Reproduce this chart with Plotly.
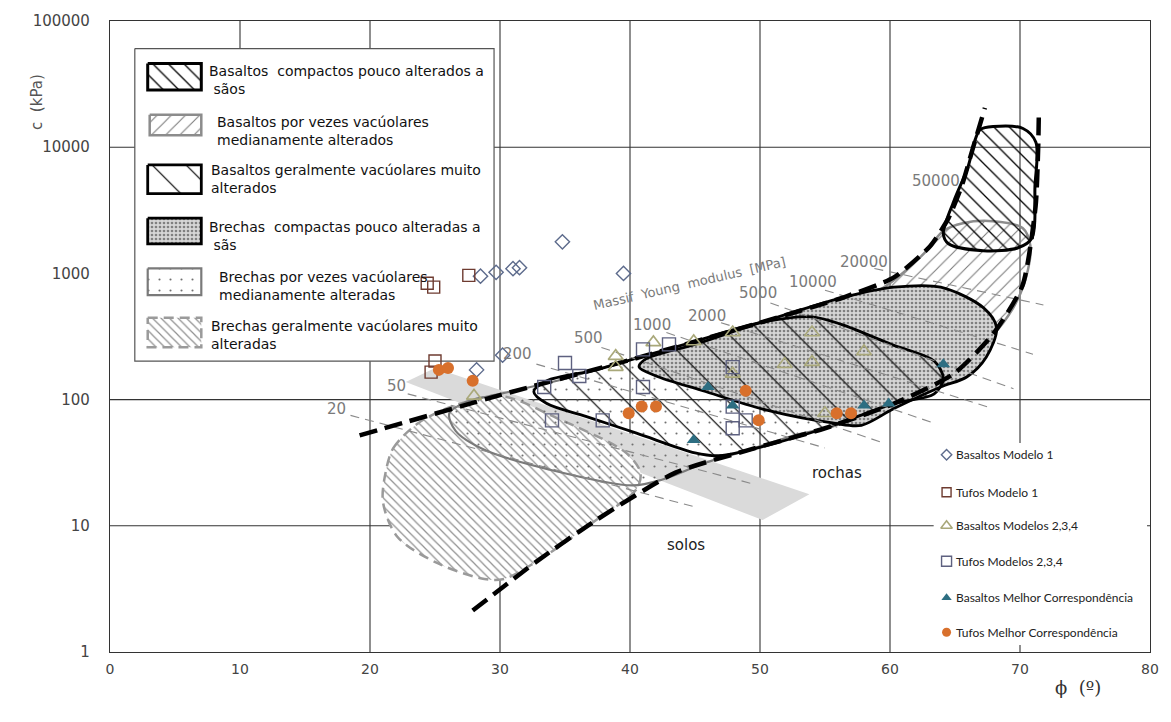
import numpy as np
import plotly.graph_objects as go

# ---------------- figure / axes geometry ----------------
W, H = 1171, 722
ML, MR, MT, MB = 110, 13, 12, 70
PW, PH = W - ML - MR, H - MT - MB
X_MAX = 80.0
N_DEC = 5.0


def px_to_data(px, py):
    """Figure pixel -> (phi, c) in the main axes."""
    return (px - ML) / PW * X_MAX, 10 ** ((MT + PH - py) / PH * N_DEC)


def px_to_paper(px, py):
    return (px - ML) / PW, (MT + PH - py) / PH


# ---------------- data: back-analysed strength parameters ----------------
bas_m1_phi = [28.5, 29.7, 31.0, 31.5, 34.8, 39.5, 28.2, 30.2]
bas_m1_c = [950, 1020, 1090, 1110, 1780, 1000, 172, 225]

tuf_m1_phi = [24.4, 24.9, 27.6, 25.0, 24.7]
tuf_m1_c = [835, 778, 965, 202, 165]

bas_m234_phi = [38.9, 38.9, 41.8, 44.9, 47.9, 47.9, 51.9, 54.0, 54.0, 58.0, 55.0, 28.0]
bas_m234_c = [221, 181, 284, 289, 340, 160, 191, 198, 340, 241, 78, 107]

tuf_m234_phi = [35.0, 36.1, 33.4, 34.0, 37.9, 41.0, 43.0, 41.0, 47.9, 47.9, 48.9, 47.9]
tuf_m234_c = [195, 154, 126, 68.5, 68.5, 250, 274, 126, 181, 88, 68.5, 59.3]

bas_best_phi = [44.9, 46.0, 47.9, 58.0, 59.9, 64.1]
bas_best_c = [47.8, 126, 89.8, 89.8, 93, 191]

tuf_best_phi = [25.3, 26.0, 27.9, 39.9, 40.9, 42.0, 48.9, 49.9, 55.9, 57.0]
tuf_best_c = [172, 178, 141, 77.8, 88.2, 88.2, 117.5, 68.5, 77.8, 77.8]

# ---------------- data: rock-mass class envelopes (phi, c) ----------------
bas_comp_phi = [66.95, 67.94, 70.23, 71.22, 71.15, 70.92, 69.85, 67.18, 64.5, 64.1, 64.9, 66.0, 66.56]
bas_comp_c = [13830, 14590, 14070, 10940, 4870, 1910, 1596, 1513, 1716, 2053, 3720, 6980, 11550]

bas_med_phi = [54.2, 56.5, 58.8, 60.5, 62.6, 64.1, 65.6, 67.9, 70.2, 70.8, 70.6, 69.8, 68.3, 66.4, 64.5, 62.6, 60.3, 58.0, 56.1]
bas_med_c = [407, 562, 698, 914, 1432, 2168, 2500, 2594, 2286, 1655, 1056, 615, 359, 229, 165, 154, 184, 229, 300]

bas_alt_phi = [32.6, 33.6, 37.4, 40.5, 45.0, 50.0, 54.0, 56.3, 60.1, 63.4, 64.1, 63.4, 60.3, 55.0, 48.9, 46.8, 45.0, 40.5, 36.6, 33.6]
bas_alt_c = [115.5, 141, 172, 213, 289, 407, 453, 393, 274, 202, 146, 111, 93, 59.3, 39.3, 35.9, 37.8, 54.2, 73.6, 93]

bre_comp_phi = [40.7, 41.2, 45.0, 50.0, 56.5, 60.3, 63.9, 67.2, 68.2, 67.4, 65.9, 63.9, 60.3, 57.8, 55.7, 50.6, 45.6, 42.0]
bre_comp_c = [181, 209, 274, 407, 649, 778, 778, 533, 372, 217, 151, 126, 85, 62.6, 65, 82, 117.5, 154]

bre_med_phi = [26.1, 27.5, 30.0, 34.4, 40.5, 43.5, 47.3, 51.9, 54.2, 57.3, 56.5, 52.7, 48.9, 45.8, 42.5, 40.2, 33.8, 28.8, 26.6]
bre_med_c = [77.8, 96.5, 111, 141, 213, 250, 229, 181, 122, 96.5, 67.3, 52.3, 39.3, 31.6, 23.3, 20.9, 27.9, 40, 56.2]

bre_alt_phi = [21.2, 21.8, 23.7, 26.3, 30.0, 34.4, 39.7, 40.8, 40.5, 37.4, 32.8, 30.3, 28.8, 25.2, 22.1, 21.0]
bre_alt_c = [26.4, 41.4, 64.9, 88.2, 107, 71.1, 37.8, 26.4, 19.5, 11.1, 5.2, 3.79, 3.79, 5.05, 8.2, 15.4]

# soil / rock transition band
band_phi = [22.75, 25.0, 53.8, 50.2]
band_c = [138, 178, 17.8, 11.1]

# outer limits of the rock-mass domain
upper_phi = [19.2, 29.8, 40.5, 50.0, 56.5, 60.3, 63.1, 64.5, 65.5, 66.4, 67.3]
upper_c = [52, 107, 213, 407, 650, 930, 1650, 2740, 4870, 10000, 20500]
lower_phi = [27.9, 32.8, 37.4, 43.5, 48.9, 55.0, 60.3, 64.9, 67.9, 70.2, 71.2, 71.4, 71.45]
lower_c = [2.13, 5.2, 11.1, 26.4, 39.3, 59.3, 93, 160, 328, 806, 3400, 10000, 18750]

# massif Young modulus isolines (MPa)
iso_E = [20, 50, 200, 500, 1000, 2000, 5000, 10000, 20000]
iso_phi0 = [18.5, 22.9, 32.8, 37.8, 42.8, 47.0, 50.8, 55.0, 58.8]
iso_c0 = [75, 111, 191, 259, 340, 407, 583, 736, 1094]
iso_phi1 = [45.0, 49.6, 55.0, 59.5, 63.4, 67.9, 69.5, 71.0, 71.8]
iso_c1 = [14.1, 21.3, 41.4, 45.3, 65, 85, 122, 229, 562]

iso_labels = ["20", "50", "200", "500", "1000", "2000", "5000", "10000", "20000", "50000"]
iso_label_phi = [17.4, 22.06, 31.37, 36.79, 41.68, 45.95, 49.85, 54.05, 58.02, 63.51]
iso_label_c = [85, 128.5, 229, 310, 393, 461, 698, 851, 1241, 5420]

x_ticks = [0, 10, 20, 30, 40, 50, 60, 70, 80]
y_ticks = [1, 10, 100, 1000, 10000, 100000]

# ---------------- styles of the classes ----------------
NONE = "rgba(0,0,0,0)"
classes = [
    dict(name="Basaltos  compactos pouco alterados a<br> sãos", phi=bas_comp_phi, c=bas_comp_c,
         line=dict(color="black", width=3), pat=dict(shape="\\", fgcolor="black", bgcolor=NONE, size=11, solidity=0.12)),
    dict(name="Basaltos por vezes vacúolares<br>medianamente alterados", phi=bas_med_phi, c=bas_med_c,
         line=dict(color="#8c8c8c", width=2.5), pat=dict(shape="/", fgcolor="#777777", bgcolor=NONE, size=10, solidity=0.1)),
    dict(name="Basaltos geralmente vacúolares muito<br>alterados", phi=bas_alt_phi, c=bas_alt_c,
         line=dict(color="black", width=2.8), pat=dict(shape="\\", fgcolor="black", bgcolor=NONE, size=24, solidity=0.05)),
    dict(name="Brechas  compactas pouco alteradas a<br> sãs", phi=bre_comp_phi, c=bre_comp_c,
         line=dict(color="black", width=2.8), pat=dict(shape=".", fgcolor="#808080", bgcolor="#d6d6d6", size=4, solidity=0.35)),
    dict(name="Brechas por vezes vacúolares<br>medianamente alteradas", phi=bre_med_phi, c=bre_med_c,
         line=dict(color="#7a7a7a", width=2.2), pat=dict(shape=".", fgcolor="#707070", bgcolor=NONE, size=11, solidity=0.03)),
    dict(name="Brechas geralmente vacúolares muito<br>alteradas", phi=bre_alt_phi, c=bre_alt_c,
         line=dict(color="#9a9a9a", width=2.5, dash="10px,6px"), pat=dict(shape="\\", fgcolor="#8f8f8f", bgcolor="white", size=6, solidity=0.2)),
]

fig = go.Figure()


def closed(a):
    return list(a) + [a[0]]


def add_area(phi, c, line, pat, smooth=True):
    ln = dict(line)
    if smooth:
        ln["shape"] = "spline"
        ln["smoothing"] = 0.9
    fig.add_trace(go.Scatter(
        x=closed(phi), y=closed(c), mode="lines", fill="toself",
        line=ln, fillcolor=NONE,
        fillpattern=dict(fillmode="replace", **pat),
        hoverinfo="skip", showlegend=False))


# transition band
fig.add_trace(go.Scatter(x=closed(band_phi), y=closed(band_c), mode="lines", fill="toself",
                         fillcolor="#dadada", line=dict(width=0), hoverinfo="skip", showlegend=False))

# envelopes, back to front
for idx in [5, 4, 1, 3, 2, 0]:
    k = classes[idx]
    add_area(k["phi"], k["c"], k["line"], k["pat"])

# Young modulus isolines
for e, p0, c0, p1, c1 in zip(iso_E, iso_phi0, iso_c0, iso_phi1, iso_c1):
    fig.add_trace(go.Scatter(x=[p0, p1], y=[c0, c1], mode="lines",
                             line=dict(color="#8a8a8a", width=1.1, dash="9px,6px"),
                             hoverinfo="skip", showlegend=False))

# domain limits
for ph, cc in [(upper_phi, upper_c), (lower_phi, lower_c)]:
    fig.add_trace(go.Scatter(x=ph, y=cc, mode="lines",
                             line=dict(color="black", width=4.5, dash="18px,8px", shape="spline", smoothing=0.6),
                             hoverinfo="skip", showlegend=False))


def add_rect_px(x0, y0, x1, y1, fill, line):
    a = px_to_data(x0, y0)
    b = px_to_data(x1, y1)
    fig.add_trace(go.Scatter(x=[a[0], b[0], b[0], a[0], a[0]], y=[a[1], a[1], b[1], b[1], a[1]],
                             mode="lines", fill="toself", fillcolor=fill, line=line,
                             hoverinfo="skip", showlegend=False))


# ---------------- class legend box ----------------
add_rect_px(135, 40, 497, 357, "white", dict(color="#555555", width=1.2))
swatches = [(148, 55, 202, 82), (150, 107, 202, 128), (148, 158, 202, 187),
            (148, 212, 202, 238), (148, 263, 202, 290), (148, 313, 202, 343)]
text_x = [208, 216, 210, 208, 218, 210]
text_y = [72, 124, 172, 230, 281, 330]
annotations = []
for k, (x0, y0, x1, y1), tx, ty in zip(classes, swatches, text_x, text_y):
    a = px_to_data(x0, y0)
    b = px_to_data(x1, y1)
    fig.add_trace(go.Scatter(x=[a[0], b[0], b[0], a[0], a[0]], y=[a[1], a[1], b[1], b[1], a[1]],
                             mode="lines", fill="toself", fillcolor=NONE, line=k["line"],
                             fillpattern=dict(fillmode="replace", **k["pat"]),
                             hoverinfo="skip", showlegend=False))
    xp, yp = px_to_paper(tx, ty)
    annotations.append(dict(x=xp, y=yp, xref="paper", yref="paper", text=k["name"], showarrow=False,
                            xanchor="left", yanchor="middle", align="left",
                            font=dict(family="DejaVu Sans", size=14, color="#111111")))

# ---------------- data series ----------------
series = [
    ("Basaltos Modelo 1", bas_m1_phi, bas_m1_c, dict(symbol="diamond-open", size=11, color="#5d6b8c", line=dict(width=1.4))),
    ("Tufos Modelo 1", tuf_m1_phi, tuf_m1_c, dict(symbol="square-open", size=12, color="#6e3b30", line=dict(width=1.4))),
    ("Basaltos Modelos 2,3,4", bas_m234_phi, bas_m234_c, dict(symbol="triangle-up-open", size=13, color="#a9a87a", line=dict(width=1.6))),
    ("Tufos Modelos 2,3,4", tuf_m234_phi, tuf_m234_c, dict(symbol="square-open", size=13, color="#5e6180", line=dict(width=1.4))),
    ("Basaltos Melhor Correspondência", bas_best_phi, bas_best_c, dict(symbol="triangle-up", size=12, color="#2d6e82")),
    ("Tufos Melhor Correspondência", tuf_best_phi, tuf_best_c, dict(symbol="circle", size=12, color="#d8702c")),
]
for name, ph, cc, mk in series:
    fig.add_trace(go.Scatter(x=ph, y=cc, mode="markers", name=name, marker=mk, showlegend=False))

# ---------------- marker legend ----------------
add_rect_px(940, 440, 1155, 645, "white", dict(width=0))
leg_y = [452, 490, 524, 560, 597, 632]
for (name, _, _, mk), ly in zip(series, leg_y):
    lm = dict(mk)
    lm["size"] = mk["size"] - 3
    p = px_to_data(953, ly)
    fig.add_trace(go.Scatter(x=[p[0]], y=[p[1]], mode="markers", marker=lm,
                             hoverinfo="skip", showlegend=False))
    xp, yp = px_to_paper(960, ly)
    annotations.append(dict(x=xp, y=yp, xref="paper", yref="paper", text=name, showarrow=False,
                            xanchor="left", yanchor="middle",
                            font=dict(family="Lato", size=12, color="#222222")))

# isoline labels
for t, ph, cc in zip(iso_labels, iso_label_phi, iso_label_c):
    annotations.append(dict(x=ph, y=np.log10(cc), xref="x", yref="y", text=t, showarrow=False,
                            font=dict(family="DejaVu Sans", size=15, color="#7a7a7a")))

annotations += [
    dict(x=44.6, y=np.log10(835), xref="x", yref="y", text="Massif  Young  modulus  [MPa]", showarrow=False,
         textangle=-13, font=dict(family="DejaVu Sans", size=13, color="#7a7a7a")),
    dict(x=55.9, y=np.log10(26.4), xref="x", yref="y", text="rochas", showarrow=False,
         font=dict(family="DejaVu Sans", size=15, color="#222222")),
    dict(x=44.3, y=np.log10(7.1), xref="x", yref="y", text="solos", showarrow=False,
         font=dict(family="DejaVu Sans", size=15, color="#222222")),
]
xp, yp = px_to_paper(26, 64)
annotations.append(dict(x=xp, y=yp, xref="paper", yref="paper", text="c  (kPa)", showarrow=False,
                        textangle=-90, font=dict(family="DejaVu Sans", size=15, color="#555555")))
xp, yp = px_to_paper(1111, 701)
annotations.append(dict(x=xp, y=yp, xref="paper", yref="paper", text="ϕ  (º)", showarrow=False,
                        font=dict(family="DejaVu Serif", size=18, color="#333333")))

# ---------------- grid ----------------
shapes = []
for gx in [20, 30, 40, 50, 60, 70]:
    shapes.append(dict(type="line", xref="x", yref="paper", x0=gx, x1=gx, y0=0, y1=1,
                       line=dict(color="#333333", width=1.1), layer="below"))
shapes.append(dict(type="line", xref="x", yref="paper", x0=10, x1=10, y0=0.95, y1=1,
                   line=dict(color="#333333", width=1.1), layer="below"))
for gy in [10, 100, 10000]:
    f = np.log10(gy) / N_DEC
    shapes.append(dict(type="line", xref="paper", yref="paper", x0=0, x1=1, y0=f, y1=f,
                       line=dict(color="#333333", width=1.1), layer="below"))

fig.update_layout(
    width=W, height=H,
    margin=dict(l=ML, r=MR, t=MT, b=MB, pad=0),
    paper_bgcolor="white", plot_bgcolor="white",
    showlegend=False,
    annotations=annotations,
    shapes=shapes,
    xaxis=dict(range=[0, X_MAX], tickvals=x_ticks, ticktext=[str(v) for v in x_ticks],
               showgrid=False, zeroline=False, showline=True, linecolor="#333333", linewidth=1.2,
               mirror=True, ticks="", ticklabelstandoff=4,
               tickfont=dict(family="DejaVu Sans", size=14, color="#444444")),
    yaxis=dict(type="log", range=[0, N_DEC], tickvals=y_ticks, ticktext=[str(v) for v in y_ticks],
               showgrid=False, zeroline=False, showline=True, linecolor="#333333", linewidth=1.2,
               mirror=True, ticks="", ticklabelstandoff=16,
               tickfont=dict(family="DejaVu Sans", size=15, color="#444444")),
)

fig.write_html("out.html")
